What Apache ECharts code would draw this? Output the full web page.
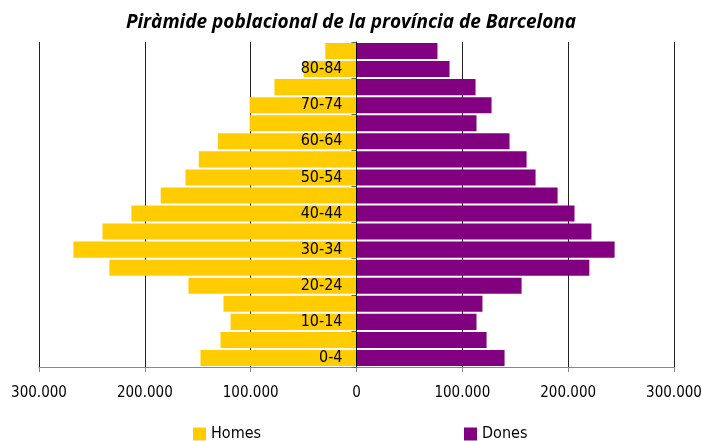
<!DOCTYPE html>
<html>
<head>
<meta charset="utf-8">
<script src="https://cdn.jsdelivr.net/npm/echarts@6/dist/echarts.min.js"></script>
<style>
  html, body { margin: 0; padding: 0; background: #fff; }
  #chart { width: 702px; height: 441px; }
</style>
</head>
<body>
<div id="chart"></div>
<script>
// grups d'edat, de baix a dalt
const ageGroups = ["0-4", "5-9", "10-14", "15-19", "20-24", "25-29", "30-34", "35-39", "40-44",
  "45-49", "50-54", "55-59", "60-64", "65-69", "70-74", "75-79", "80-84", "85+"];
// homes (valors positius, es dibuixen a l'esquerra)
const homes = [147400, 128500, 119000, 125700, 158800, 233500, 267500, 240000, 212700,
  185000, 161600, 149000, 131000, 101000, 101000, 77500, 50000, 29500];
// dones
const dones = [139900, 122900, 113400, 119000, 156000, 220000, 243900, 222000, 206000,
  190000, 169200, 160700, 144600, 113400, 127600, 112500, 87900, 76500];
const axisTicks = [-300000, -200000, -100000, 0, 100000, 200000, 300000];

const fmt = (v) => Math.abs(v).toString().replace(/\B(?=(\d{3})+(?!\d))/g, ".");
const narrow = "'Liberation Sans Narrow', 'DejaVu Sans Condensed', sans-serif";

const gridLeft = 39, gridRight = 28;
const plotWidth = 702 - gridLeft - gridRight;

const chart = echarts.init(document.getElementById("chart"));
chart.setOption({
  animation: false,
  title: {
    text: "Piràmide poblacional de la província de Barcelona",
    left: "center",
    top: 8,
    textStyle: { fontFamily: "Open Sans", fontStyle: "italic", fontWeight: "bold", fontSize: 19, color: "#000" }
  },
  legend: {
    top: 421,
    left: 188,
    itemGap: 203,
    itemWidth: 13,
    itemHeight: 13,
    icon: "rect",
    textStyle: { fontFamily: narrow, fontSize: 16, color: "#000" },
    data: ["Homes", "Dones"]
  },
  grid: { left: gridLeft, right: gridRight, top: 42, bottom: 74, containLabel: false, outerBoundsMode: "none" },
  xAxis: {
    type: "value",
    min: axisTicks[0],
    max: axisTicks[axisTicks.length - 1],
    interval: 100000,
    axisLine: { show: true, lineStyle: { color: "#888" } },
    axisTick: { show: true, length: 5, lineStyle: { color: "#888" } },
    axisLabel: { fontFamily: narrow, fontSize: 15, color: "#000", margin: 19, formatter: fmt },
    splitLine: { show: true, lineStyle: { color: "#222", width: 1 } }
  },
  yAxis: {
    type: "category",
    data: ageGroups,
    position: "left",
    offset: -plotWidth / 2,
    axisLine: { onZero: false, lineStyle: { color: "#000", width: 1 } },
    axisTick: { show: true, length: 5, lineStyle: { color: "#666" } },
    axisLabel: { interval: 1, fontFamily: narrow, fontSize: 16, color: "#000", margin: 14 },
    z: 10
  },
  series: [
    {
      name: "Homes",
      type: "bar",
      data: homes.map((v) => -v),
      itemStyle: { color: "#FFCC00" },
      barGap: "-100%",
      barCategoryGap: "11%"
    },
    {
      name: "Dones",
      type: "bar",
      data: dones,
      itemStyle: { color: "#800080" },
      barGap: "-100%",
      barCategoryGap: "11%"
    }
  ]
});
</script>
</body>
</html>
